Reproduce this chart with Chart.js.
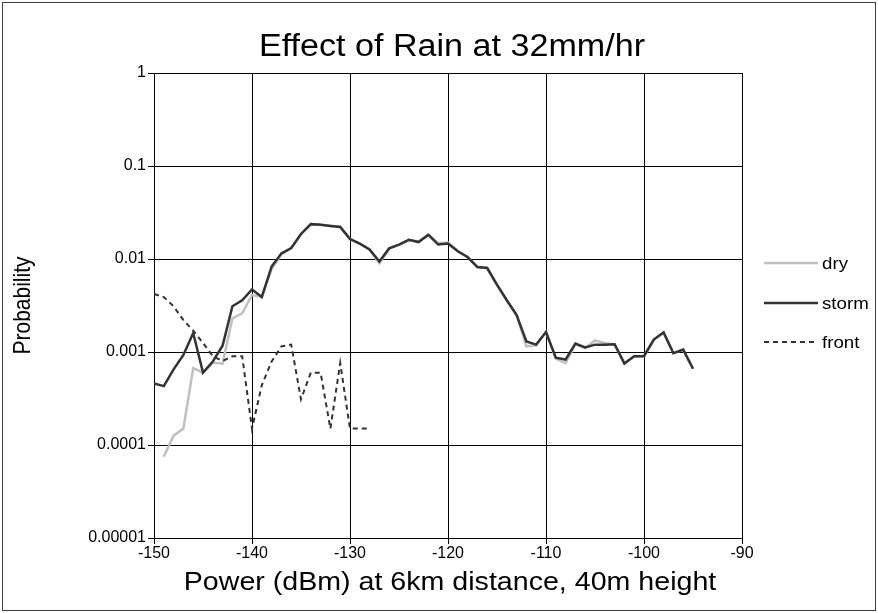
<!DOCTYPE html>
<html>
<head>
<meta charset="utf-8">
<title>Effect of Rain at 32mm/hr</title>
<script src="https://cdn.jsdelivr.net/npm/chart.js@4.4.1/dist/chart.umd.min.js"></script>
<style>
  html, body { margin: 0; padding: 0; background: #fff; }
  canvas { display: block; }
</style>
</head>
<body>
<canvas id="chart" width="878" height="613"></canvas>
<script>
// Received power (dBm) at 6 km, 40 m height
const power = [
  -150, -149, -148, -147, -146, -145, -144, -143, -142, -141,
  -140, -139, -138, -137, -136, -135, -134, -133, -132, -131,
  -130, -129, -128, -127, -126, -125, -124, -123, -122, -121,
  -120, -119, -118, -117, -116, -115, -114, -113, -112, -111,
  -110, -109, -108, -107, -106, -105, -104, -103, -102, -101,
  -100, -99, -98, -97, -96, -95
];

// Probability of each power level, per weather condition
const dry = [
  null, 0.000075, 0.000126, 0.00015, 0.00067, 0.0006, 0.00077, 0.00075, 0.0023, 0.0026,
  0.0041, 0.0039, 0.0078, 0.0112, 0.0131, 0.0185, 0.0236, 0.0234, 0.0228, 0.0222,
  0.0165, 0.0146, 0.0126, 0.0090, 0.0130, 0.0142, 0.0160, 0.0154, 0.0184, 0.0148,
  0.0150, 0.0122, 0.0104, 0.0082, 0.0080, 0.0052, 0.0036, 0.0025, 0.00115, 0.00118,
  0.00164, 0.00085, 0.00076, 0.00121, 0.00110, 0.00133, 0.00125, 0.00121, 0.00076, 0.00090,
  0.00090, 0.00136, 0.00162, 0.00097, 0.00106, 0.00066
];
const storm = [
  0.00046, 0.00043, 0.00065, 0.00093, 0.0016, 0.0006, 0.00079, 0.00117, 0.0031, 0.0036,
  0.0047, 0.0039, 0.0083, 0.0115, 0.0131, 0.0186, 0.0237, 0.0233, 0.0227, 0.0221,
  0.0164, 0.0146, 0.0127, 0.0094, 0.0130, 0.0143, 0.0161, 0.0152, 0.0182, 0.0143,
  0.0147, 0.0121, 0.0105, 0.0082, 0.0080, 0.0053, 0.0036, 0.0025, 0.0013, 0.0012,
  0.00164, 0.00087, 0.00083, 0.00123, 0.00112, 0.00120, 0.00120, 0.00121, 0.00075, 0.00090,
  0.00090, 0.00136, 0.00162, 0.00097, 0.00106, 0.00066
];
const front = [
  0.0042, 0.0039, 0.0031, 0.0022, 0.0017, 0.00125, 0.0009, 0.0008, 0.0009, 0.0009,
  0.00015, 0.00044, 0.00079, 0.00115, 0.0012, 0.00031, 0.0006, 0.0006, 0.00015, 0.00076,
  0.00015, 0.00015, 0.00015
];

// Axis ticks
const xTicks = [-150, -140, -130, -120, -110, -100, -90];
const yTicks = [1, 0.1, 0.01, 0.001, 0.0001, 0.00001];
const yTickLabels = ['1', '0.1', '0.01', '0.001', '0.0001', '0.00001'];

const FONT = "'Liberation Sans', Arial, Helvetica, sans-serif";
const STRETCH = 1.1; // text in this chart is set slightly wide

function toPoints(values) {
  const pts = [];
  values.forEach((v, i) => { if (v !== null && v !== undefined) pts.push({ x: power[i], y: v }); });
  return pts;
}

const series = [
  { label: 'dry',   values: dry,   color: '#c0c0c0', width: 2.5, dash: [] ,    order: 2 },
  { label: 'storm', values: storm, color: '#333333', width: 2.5, dash: [],     order: 1 },
  { label: 'front', values: front, color: '#333333', width: 2,   dash: [5, 4], order: 0 }
];

function wideText(ctx, text, x, y, align, font, rotate) {
  ctx.save();
  ctx.font = font;
  ctx.fillStyle = '#000';
  ctx.textAlign = align;
  ctx.textBaseline = 'alphabetic';
  ctx.translate(x, y);
  ctx.scale(STRETCH, 1);
  if (rotate) ctx.rotate(-Math.PI / 2);
  ctx.fillText(text, 0, 0);
  ctx.restore();
}

const decorations = {
  id: 'decorations',
  beforeDraw(chart) {
    const ctx = chart.ctx;
    ctx.save();
    ctx.fillStyle = '#fff';
    ctx.fillRect(0, 0, chart.width, chart.height);
    ctx.restore();
  },
  afterDraw(chart) {
    const ctx = chart.ctx;
    const area = chart.chartArea;
    const cx = (area.left + area.right) / 2;

    // outer frame
    ctx.save();
    ctx.strokeStyle = '#404040';
    ctx.lineWidth = 1;
    ctx.strokeRect(2.5, 2.5, chart.width - 5, chart.height - 5);
    ctx.restore();

    // titles
    wideText(ctx, 'Effect of Rain at 32mm/hr', cx + 4, 56, 'center', '31px ' + FONT);
    wideText(ctx, 'Power (dBm) at 6km distance, 40m height', cx + 2, 590, 'center', '26px ' + FONT);
    wideText(ctx, 'Probability', 30, (area.top + area.bottom) / 2, 'center', '21px ' + FONT, true);

    // legend
    const legendY = [263, 303, 342];
    series.forEach((s, i) => {
      const y = legendY[i];
      ctx.save();
      ctx.strokeStyle = s.color;
      ctx.lineWidth = s.width;
      ctx.setLineDash(s.dash);
      ctx.beginPath();
      ctx.moveTo(764, y);
      ctx.lineTo(818, y);
      ctx.stroke();
      ctx.restore();
      wideText(ctx, s.label, 822, y + 6, 'left', '17px ' + FONT);
    });
  }
};

new Chart(document.getElementById('chart'), {
  type: 'line',
  data: {
    datasets: series.map(s => ({
      label: s.label,
      data: toPoints(s.values),
      borderColor: s.color,
      backgroundColor: s.color,
      borderWidth: s.width,
      borderDash: s.dash,
      pointRadius: 0,
      pointHoverRadius: 0,
      tension: 0,
      fill: false,
      order: s.order
    }))
  },
  options: {
    responsive: false,
    animation: false,
    devicePixelRatio: 1,
    layout: { padding: { top: 73, right: 136, left: 0, bottom: 0 } },
    plugins: {
      legend: { display: false },
      title: { display: false },
      tooltip: { enabled: false }
    },
    scales: {
      x: {
        type: 'linear',
        min: -150,
        max: -90,
        afterFit(scale) { scale.height = 75; },
        afterBuildTicks(scale) { scale.ticks = xTicks.map(v => ({ value: v })); },
        ticks: {
          color: '#000',
          font: { family: FONT, size: 16 },
          padding: 0,
          maxRotation: 0,
          callback: v => String(v)
        },
        grid: { color: '#000', lineWidth: 1, tickLength: 6, drawTicks: true },
        border: { color: '#000', width: 1 }
      },
      y: {
        type: 'logarithmic',
        min: 0.00001,
        max: 1,
        afterFit(scale) { scale.width = 154; },
        afterBuildTicks(scale) { scale.ticks = yTicks.map(v => ({ value: v, major: true })); },
        ticks: {
          color: '#000',
          font: { family: FONT, size: 16 },
          padding: 2,
          callback: (v, i) => yTickLabels[i]
        },
        grid: { color: '#000', lineWidth: 1, tickLength: 6, drawTicks: true },
        border: { color: '#000', width: 1 }
      }
    }
  },
  plugins: [decorations]
});
</script>
</body>
</html>
